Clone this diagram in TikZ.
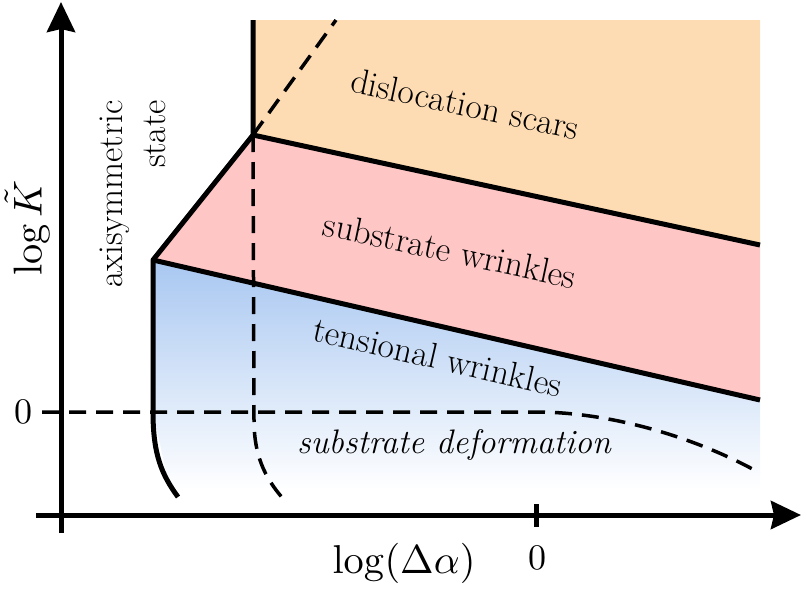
\documentclass[tikz,border=0pt]{standalone}
\usepackage{tikz}
\usetikzlibrary{positioning, arrows.meta}
\definecolor{scarsorange}{RGB}{253,220,180}
\definecolor{wrinklepink}{RGB}{255,198,198}
\definecolor{tensionblue}{RGB}{168,199,241}
\tikzset{
x=1pt, y=-1pt, % one unit per pixel, counted downwards
axis/.style={line width=5pt, -{Stealth[length=30pt,width=28pt,inset=3pt]}}, % the two axes
border/.style={line width=5pt, line join=round}, % phase boundaries
guide/.style={line width=3.5pt, dash pattern=on 17pt off 10pt}, % crossover lines
region/.style={font=\fontsize{35.5}{45}\selectfont}, % labels inside the diagram
axlabel/.style={scale=3.6}, % labels of the axes (math fonts do not scale otherwise)
}
\begin{document}
\begin{tikzpicture}
    \useasboundingbox (0,0) rectangle (807,590);

    % corners of the phase boundaries
    \coordinate (top) at (253,20);
    \coordinate (kink) at (253,135);
    \coordinate (corner) at (153,260);
    \coordinate (rtop) at (760,20);
    \coordinate (rmid) at (760,245);
    \coordinate (rlow) at (760,400);
    \coordinate (rbot) at (760,490);
    \coordinate (cbot) at (178,497);

    \fill[scarsorange] (top) -- (rtop) -- (rmid) -- (kink) -- cycle;
    \fill[wrinklepink] (kink) -- (rmid) -- (rlow) -- (corner) -- cycle;
    \shade[top color=tensionblue, middle color=tensionblue!85, bottom color=white]
        (corner) -- (rlow) -- (rbot) -- (170,490) -- (153,412) -- cycle;

    % crossover lines
    \coordinate (dtop) at (336,20);
    \coordinate (dbot) at (286,502);
    \coordinate (hleft) at (42,412);
    \coordinate (hright) at (758,472);
    \draw[guide] (kink) -- (dtop);
    \draw[guide] (kink) -- (254,420) .. controls (254,460) and (268,482) .. (dbot);
    \draw[guide] (hleft) -- (543,412) .. controls (620,414) and (700,440) .. (hright);

    % phase boundaries
    \draw[border] (top) -- (kink) -- (corner) -- (153,412)
        .. controls (153,455) and (162,475) .. (cbot);
    \draw[border] (kink) -- (rmid);
    \draw[border] (corner) -- (rlow);

    % axes
    \coordinate (ybot) at (61,533);
    \coordinate (ytop) at (61,2);
    \coordinate (xleft) at (36,515);
    \coordinate (xright) at (801,515);
    \draw[axis] (ybot) -- (ytop);
    \draw[axis] (xleft) -- (xright);
    \draw[line width=5pt] (536,504) -- (536,527);

    \node[axlabel, scale=1.12, rotate=90] (ylab) at (27,228) {$\log\tilde{K}$};
    \node[axlabel, scale=1.12] (xlab) at (404,563) {$\log(\Delta\alpha)$};
    \node[axlabel] (yzero) at (23,412) {0};
    \node[axlabel] (xzero) at (537,558) {0};

    \node[region, rotate=-12] (scars) at (465,104) {dislocation scars};
    \node[region, rotate=-12] (subw) at (450,250) {substrate wrinkles};
    \node[region, rotate=-13] (tens) at (438,357) {tensional wrinkles};
    \node[region, font=\fontsize{34}{43}\selectfont\itshape] (deform) at (454,445) {substrate deformation};
    \node[region, font=\fontsize{35}{43}\selectfont, rotate=90, align=right] (axi) at (133,194) {axisymmetric\\state};
\end{tikzpicture}
\end{document}
